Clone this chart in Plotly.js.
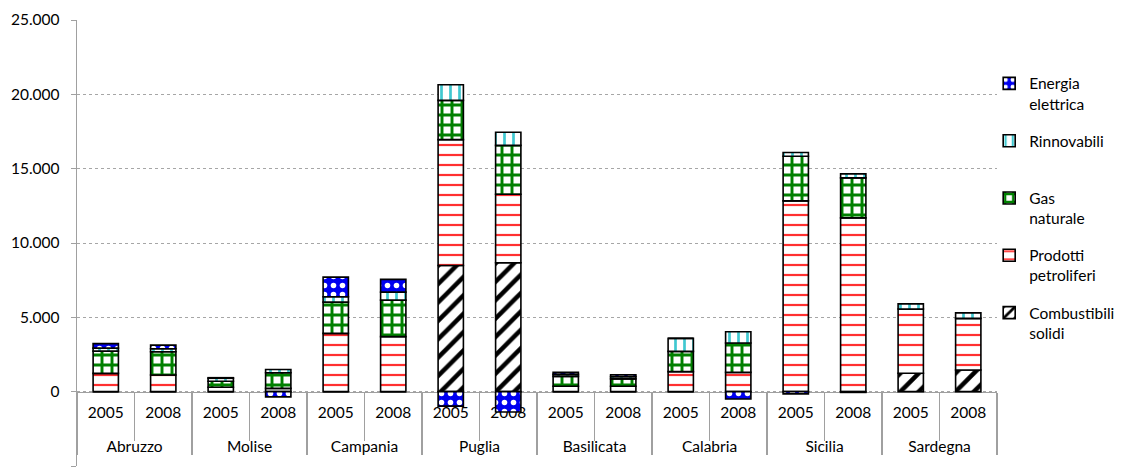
<!DOCTYPE html>
<html>
<head>
<meta charset="utf-8">
<script src="https://cdn.plot.ly/plotly-3.0.1.min.js"></script>
<style>html,body{margin:0;padding:0;background:#fff;}#chart{width:1126px;height:472px;}</style>
</head>
<body>
<div id="chart"></div>
<script>
// ---- data ----
var regions = ['Abruzzo','Molise','Campania','Puglia','Basilicata','Calabria','Sicilia','Sardegna'];
var years = ['2005','2008'];
// order: Abr05, Abr08, Mol05, Mol08, Cam05, Cam08, Pug05, Pug08, Bas05, Bas08, Cal05, Cal08, Sic05, Sic08, Sar05, Sar08
var combustibiliSolidi   = [0, 0, 0, 0, 0, 0, 8490, 8670, 0, 0, 0, 0, 0, 0, 1235, 1460];
var prodottiPetroliferi  = [1230, 1120, 300, 220, 3920, 3700, 8465, 4610, 360, 360, 1345, 1300, 12835, 11690, 4325, 3470];
var gasNaturale          = [1500, 1570, 400, 1050, 2100, 2460, 2640, 3290, 670, 500, 1365, 1970, 3005, 2690, 0, 0];
var rinnovabili          = [200, 200, 200, 220, 365, 535, 1050, 880, 130, 150, 875, 760, 250, 270, 355, 380];
var energiaElettrica     = [300, 240, 40, -350, 1320, 860, -970, -1370, 140, 130, 0, -490, -150, -50, 0, 0];
var seriesNames = ['Combustibili<br>solidi','Prodotti<br>petroliferi','Gas<br>naturale','Rinnovabili<br> ','Energia<br>elettrica'];
var yTickVals = [-5000, 0, 5000, 10000, 15000, 20000, 25000];
var yTickText = ['-5.000', '0', '5.000', '10.000', '15.000', '20.000', '25.000'];

// ---- build x (multicategory) ----
var xOuter = [], xInner = [];
regions.forEach(function(r){ years.forEach(function(y){ xOuter.push(r); xInner.push(y + '<br> '); }); });
var x = [xOuter, xInner];

var styles = [
  {color:'#000000', pattern:{shape:'/', fgcolor:'#000000', bgcolor:'#ffffff', fillmode:'replace', size:13, solidity:0.35}},
  {color:'#ff3030', pattern:{shape:'-', fgcolor:'#ff3030', bgcolor:'#ffffff', fillmode:'replace', size:10, solidity:0.22}},
  {color:'#008000', pattern:{shape:'+', fgcolor:'#008000', bgcolor:'#ffffff', fillmode:'replace', size:10, solidity:0.5}},
  {color:'#40d0d8', pattern:{shape:'|', fgcolor:'#40c8d0', bgcolor:'#ffffff', fillmode:'replace', size:9, solidity:0.3}},
  {color:'#0000ff', pattern:{shape:'.', fgcolor:'#ffffff', bgcolor:'#0000f0', fillmode:'replace', size:9, solidity:0.3}}
];
var valueSets = [combustibiliSolidi, prodottiPetroliferi, gasNaturale, rinnovabili, energiaElettrica];

var traces = valueSets.map(function(vals, i){
  return {
    type:'bar', x:x, y:vals, name:seriesNames[i], legendgroup:'g' + i, legendrank:5 - i,
    marker:{color:styles[i].color, pattern:styles[i].pattern, line:{color:'#000000', width:1.6}},
    hoverinfo:'y+name'
  };
});

var layout = {
  width:1126, height:472,
  margin:{l:77, r:117, t:20, b:6},
  paper_bgcolor:'#ffffff', plot_bgcolor:'#ffffff',
  font:{family:'Lato, "Open Sans", sans-serif', size:15.5, color:'#000000'},
  separators:',.',
  barmode:'relative',
  bargap:0.56,
  showlegend:true,
  legend:{x:0.9915, y:0.895, xanchor:'left', yanchor:'top', traceorder:'grouped', valign:'top',
          font:{size:15.5}, tracegroupgap:14, itemwidth:30, bgcolor:'rgba(0,0,0,0)'},
  xaxis:{
    type:'multicategory', anchor:'free', position:1/6,
    showline:true, linecolor:'#a0a0a0', linewidth:1.3,
    ticks:'outside', tickson:'boundaries', ticklen:48, tickcolor:'#a0a0a0', tickwidth:1.3,
    ticklabelstandoff:6,
    showdividers:true, dividercolor:'#a0a0a0', dividerwidth:1.3,
    showgrid:false, zeroline:false, layer:'below traces', automargin:false,
    tickfont:{size:15.5}
  },
  yaxis:{
    range:[-5000, 25000], tickvals:yTickVals, ticktext:yTickText,
    showgrid:true, gridcolor:'#a6a6a6', griddash:'dot', gridwidth:1,
    showline:true, linecolor:'#a0a0a0', linewidth:1.3,
    ticks:'outside', ticklen:5, tickcolor:'#a0a0a0', ticklabelstandoff:8,
    zeroline:false, automargin:false, tickfont:{size:15.5}
  }
};

Plotly.newPlot('chart', traces, layout, {displayModeBar:false, staticPlot:true});
</script>
</body>
</html>
